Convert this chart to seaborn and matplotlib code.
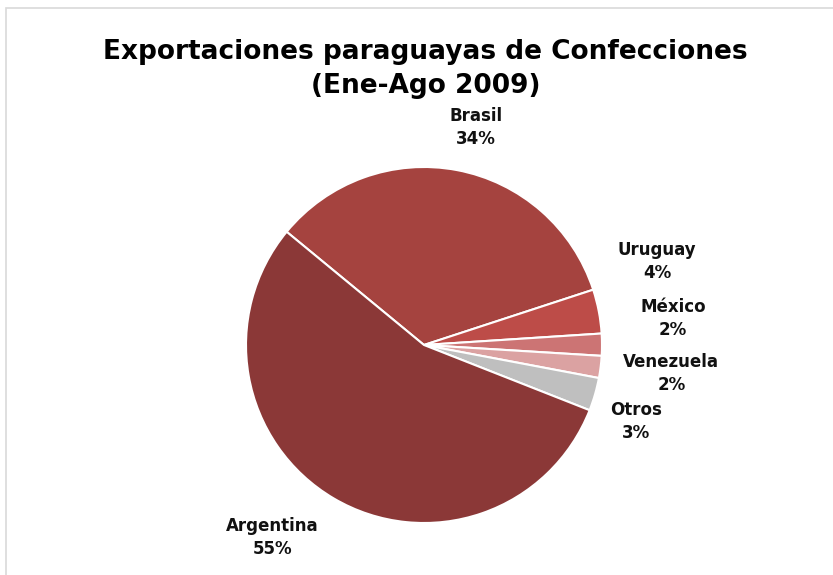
import matplotlib
matplotlib.use("Agg")
import matplotlib.pyplot as plt
import seaborn as sns
from matplotlib.patches import Rectangle

sns.set_theme(style="white")
plt.rcParams['font.family'] = ['DejaVu Sans']

categories = ["Brasil", "Uruguay", "México", "Venezuela", "Otros", "Argentina"]
values = [34, 4, 2, 2, 3, 55]
colors = ["#A5433F", "#BD4C48", "#CC7474", "#DBA2A2", "#BFBFBF", "#8B3837"]
label_pos = [(0.29, 1.22), (1.31, 0.47), (1.40, 0.15), (1.39, -0.16), (1.19, -0.43), (-0.85, -1.08)]

W, H = 833, 575
fig = plt.figure(figsize=(W / 100, H / 100), dpi=100)
fig.patches.append(Rectangle((6 / W, -0.1), 1.2, 1 - 8 / H + 0.1, transform=fig.transFigure,
                             fill=False, edgecolor="#D9D9D9", linewidth=1.2))
cx, cy, r = 424, 345, 178
ax = fig.add_axes([(cx - r) / W, (H - cy - r) / H, 2 * r / W, 2 * r / H])
ax.pie(values, colors=colors, startangle=140.5, counterclock=False, radius=1,
       wedgeprops=dict(edgecolor="white", linewidth=1.5))
ax.set_xlim(-1, 1)
ax.set_ylim(-1, 1)
ax.set_aspect("equal")
ax.axis("off")

total = sum(values)
for name, v, (x, y) in zip(categories, values, label_pos):
    ax.text(x, y, f"{name}\n{round(100 * v / total)}%", ha="center", va="center",
            fontsize=12, fontweight="bold", color="#111111", linespacing=1.35, clip_on=False)

fig.text(cx / W + 0.002, 1 - 69 / H, "Exportaciones paraguayas de Confecciones\n(Ene-Ago 2009)",
         ha="center", va="center", fontsize=19, fontweight="bold", color="black", linespacing=1.42)

fig.savefig("out.png", dpi=100)
